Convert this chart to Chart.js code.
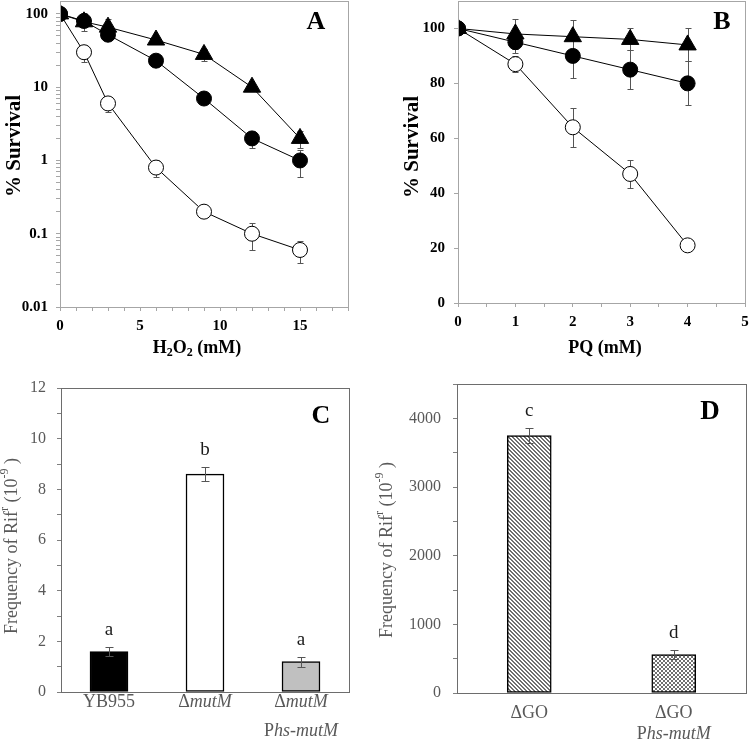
<!DOCTYPE html>
<html>
<head>
<meta charset="utf-8">
<script src="https://cdn.jsdelivr.net/npm/chart.js@4.4.1/dist/chart.umd.min.js"></script>
<style>
  body { margin: 0; background: #fff; }
  #wrap { position: relative; width: 750px; height: 740px; overflow: hidden; }
  .panel { position: absolute; }
  canvas { display: block; }
</style>
</head>
<body>
<div id="wrap">
  <div class="panel" style="left:0;top:0"><canvas id="chartA" width="375" height="380"></canvas></div>
  <div class="panel" style="left:375px;top:0"><canvas id="chartB" width="375" height="380"></canvas></div>
  <div class="panel" style="left:0;top:380px"><canvas id="chartC" width="375" height="360"></canvas></div>
  <div class="panel" style="left:375px;top:380px"><canvas id="chartD" width="375" height="360"></canvas></div>
</div>
<script>
// ===== DATA ===== //
// Panel A - survival after H2O2
const h2o2Doses = [0, 1.5, 3, 6, 9, 12, 15];
const h2o2Open = [100, 30, 6, 0.8, 0.2, 0.1, 0.06];
const h2o2OpenErr = [0, 8, 1.4, 0.2, 0.02, 0.04, 0.02];
const h2o2Filled = [100, 80, 52, 23, 7, 2, 1];
const h2o2FilledErr = [0, 22, 6, 3, 0.8, 0.5, 0.4];
const h2o2Tri = [100, 78, 66, 44, 28, 10, 2];
const h2o2TriErr = [0, 6, 20, 4, 5, 1, 0.5];
const h2o2TickLabels = [0, 5, 10, 15];
const survLogTicks = [0.01, 0.1, 1, 10, 100];

// Panel B - survival after paraquat
const pqDoses = [0, 1, 2, 3, 4];
const pqOpen = [100, 87, 64, 47, 21];
const pqOpenErr = [0, 3, 7, 5, 0];
const pqFilled = [100, 95, 90, 85, 80];
const pqFilledErr = [0, 4, 8, 7, 8];
const pqTri = [100, 98, 97, 96, 94];
const pqTriErr = [0, 5.5, 6, 4, 6];
const pqTickLabels = [0, 1, 2, 3, 4, 5];
const survLinTicks = [0, 20, 40, 60, 80, 100];

// Panel C - Rif^r frequency ( *italic*, | new line )
const strainsC = ['YB955', 'Δ*mutM*', 'Δ*mutM*|P*hs-mutM*'];
const rifC = [1.6, 8.6, 1.2];
const rifCErr = [0.18, 0.28, 0.2];
const lettersC = ['a', 'b', 'a'];
const rifCTicks = [0, 2, 4, 6, 8, 10, 12];

// Panel D
const strainsD = ['ΔGO', 'ΔGO|P*hs-mutM*'];
const rifD = [3750, 560];
const rifDErr = [115, 70];
const lettersD = ['c', 'd'];
const rifDTicks = [0, 1000, 2000, 3000, 4000];

// ===== HELPERS ===== //
const SERIF = '"Liberation Serif", "Times New Roman", serif';

function parseRich(str) {
    return str.split('*').map((t, i) => ({ t, italic: i % 2 === 1 })).filter(p => p.t);
}

function drawRich(ctx, parts, x, y, o) {
    ctx.save();
    ctx.translate(x, y);
    if (o.rotate) ctx.rotate(o.rotate);
    ctx.fillStyle = o.color || '#000';
    ctx.textBaseline = o.baseline || 'middle';
    ctx.textAlign = 'left';
    const fontOf = p => {
        const size = (p.sub || p.sup) ? Math.round(o.size * 0.65) : o.size;
        return `${p.italic ? 'italic ' : ''}${o.weight || 'normal'} ${size}px ${SERIF}`;
    };
    let total = 0;
    const widths = parts.map(p => {
        ctx.font = fontOf(p);
        const w = ctx.measureText(p.t).width;
        total += w;
        return w;
    });
    let cx = -total / 2;
    parts.forEach((p, i) => {
        ctx.font = fontOf(p);
        const dy = p.sub ? o.size * 0.28 : p.sup ? -o.size * 0.38 : 0;
        ctx.fillText(p.t, cx, dy);
        cx += widths[i];
    });
    ctx.restore();
}

function drawErrors(chart, cfg) {
    const { ctx } = chart;
    const ys = chart.scales.y;
    chart.data.datasets.forEach((ds, i) => {
        if (!ds.errors) return;
        const meta = chart.getDatasetMeta(i);
        ctx.save();
        ctx.strokeStyle = cfg.errColor;
        ctx.lineWidth = 1;
        meta.data.forEach((el, j) => {
            const e = ds.errors[j];
            if (!e) return;
            const d = ds.data[j];
            const v = typeof d === 'object' ? d.y : d;
            const x = Math.round(el.x) + 0.5;
            const t = Math.round(ys.getPixelForValue(v + e)) + 0.5;
            const b = Math.round(ys.getPixelForValue(v - e)) + 0.5;
            ctx.beginPath();
            ctx.moveTo(x, t); ctx.lineTo(x, b);
            ctx.moveTo(x - cfg.cap, t); ctx.lineTo(x + cfg.cap, t);
            ctx.moveTo(x - cfg.cap, b); ctx.lineTo(x + cfg.cap, b);
            ctx.stroke();
        });
        ctx.restore();
    });
}

// per-chart decoration: frame, titles, error bars, category labels, letters
function makeDeco(cfg) {
    return {
        id: 'deco',
        beforeDatasetsDraw(chart) {
            if (!cfg.errOnTop) drawErrors(chart, cfg);
        },
        afterDatasetsDraw(chart) {
            if (cfg.errOnTop) drawErrors(chart, cfg);
        },
        afterDraw(chart) {
            const { ctx, chartArea: a } = chart;
            ctx.save();
            ctx.strokeStyle = cfg.frameColor;
            ctx.lineWidth = 1;
            ctx.strokeRect(Math.round(a.left) + 0.5, Math.round(a.top) + 0.5,
                Math.round(a.right - a.left), Math.round(a.bottom - a.top));
            ctx.restore();

            (cfg.texts || []).forEach(t => drawRich(ctx, t.parts, t.x, t.y, t));

            if (cfg.cats) {
                const xs = chart.scales.x;
                cfg.cats.forEach((c, i) => {
                    c.split('|').forEach((line, k) => {
                        drawRich(ctx, parseRich(line), xs.getPixelForValue(i), a.bottom + cfg.catLines[k],
                            { size: 18, color: '#595959', baseline: 'alphabetic' });
                    });
                });
            }

            chart.data.datasets.forEach((ds, i) => {
                if (!ds.letters) return;
                const meta = chart.getDatasetMeta(i);
                meta.data.forEach((el, j) => {
                    const top = chart.scales.y.getPixelForValue(ds.data[j] + (ds.errors ? ds.errors[j] : 0));
                    drawRich(ctx, [{ t: ds.letters[j] }], el.x, top - 12,
                        { size: 19, color: '#1a1a1a', baseline: 'alphabetic' });
                });
            });
        }
    };
}

function fixBox(size, prop) {
    return s => {
        s[prop] = size;
        s.paddingLeft = s.paddingRight = s.paddingTop = s.paddingBottom = 0;
    };
}

const pts = (xs, ys) => xs.map((x, i) => ({ x, y: ys[i] }));

function lineSet(data, errors, style, radius, fill) {
    return {
        data, errors,
        showLine: true,
        borderColor: '#000',
        borderWidth: 1,
        pointStyle: style,
        pointRadius: radius,
        pointBackgroundColor: fill,
        pointBorderColor: '#000',
        pointBorderWidth: 1
    };
}

const boldTick = { family: SERIF, size: 15, weight: 'bold' };
const plainTick = { family: SERIF, size: 16 };
const lightGrid = { drawOnChartArea: false, drawTicks: true, tickLength: 4, color: '#a6a6a6' };
const darkGrid = { drawOnChartArea: false, drawTicks: true, tickLength: 4, color: '#7f7f7f' };

Chart.defaults.animation = false;
Chart.defaults.plugins.legend.display = false;
Chart.defaults.plugins.tooltip.enabled = false;

// ===== PANEL A ===== //
const logTickValues = survLogTicks.slice(0, -1)
    .flatMap(d => [1, 2, 3, 4, 5, 6, 7, 8, 9].map(m => d * m))
    .concat(survLogTicks[survLogTicks.length - 1]);

new Chart(document.getElementById('chartA'), {
    type: 'scatter',
    data: {
        datasets: [
            lineSet(pts(h2o2Doses, h2o2Tri), h2o2TriErr, 'triangle', 10, '#000'),
            lineSet(pts(h2o2Doses, h2o2Filled), h2o2FilledErr, 'circle', 7.5, '#000'),
            lineSet(pts(h2o2Doses, h2o2Open), h2o2OpenErr, 'circle', 7.5, '#fff')
        ]
    },
    options: {
        responsive: false,
        layout: { autoPadding: false, padding: { top: 1, right: 27, left: 0, bottom: 0 } },
        scales: {
            x: {
                type: 'linear', min: 0, max: 18,
                afterFit: fixBox(73, 'height'),
                grid: lightGrid, border: { display: false },
                ticks: {
                    stepSize: 1, autoSkip: false, maxRotation: 0, padding: 6,
                    color: '#000', font: boldTick,
                    callback: v => h2o2TickLabels.includes(v) ? v : ''
                }
            },
            y: {
                type: 'logarithmic', min: 0.01, max: 150, bounds: 'data',
                afterFit: fixBox(60, 'width'),
                afterBuildTicks: s => { s.ticks = logTickValues.map(v => ({ value: v })); },
                grid: lightGrid, border: { display: false },
                ticks: {
                    autoSkip: false, padding: 8, color: '#000', font: boldTick,
                    callback: v => survLogTicks.includes(v) ? String(v) : ''
                }
            }
        }
    },
    plugins: [makeDeco({
        frameColor: '#a6a6a6', errColor: '#555', cap: 3,
        texts: [
            { parts: [{ t: '% Survival' }], x: 15, y: 146, size: 21, weight: 'bold', rotate: -Math.PI / 2 },
            { parts: [{ t: 'H' }, { t: '2', sub: true }, { t: 'O' }, { t: '2', sub: true }, { t: ' (mM)' }],
              x: 197, y: 348, size: 18, weight: 'bold' },
            { parts: [{ t: 'A' }], x: 316, y: 22, size: 26, weight: 'bold' }
        ]
    })]
});

// ===== PANEL B ===== //
new Chart(document.getElementById('chartB'), {
    type: 'scatter',
    data: {
        datasets: [
            lineSet(pts(pqDoses, pqTri), pqTriErr, 'triangle', 10, '#000'),
            lineSet(pts(pqDoses, pqFilled), pqFilledErr, 'circle', 7.5, '#000'),
            lineSet(pts(pqDoses, pqOpen), pqOpenErr, 'circle', 7.5, '#fff')
        ]
    },
    options: {
        responsive: false,
        layout: { autoPadding: false, padding: { top: 1, right: 5, left: 0, bottom: 0 } },
        scales: {
            x: {
                type: 'linear', min: 0, max: 5,
                afterFit: fixBox(77, 'height'),
                grid: lightGrid, border: { display: false },
                ticks: {
                    stepSize: 0.5, autoSkip: false, maxRotation: 0, padding: 6,
                    color: '#000', font: boldTick,
                    callback: v => pqTickLabels.includes(v) ? v : ''
                }
            },
            y: {
                type: 'linear', min: 0, max: 110, bounds: 'data',
                afterFit: fixBox(83, 'width'),
                afterBuildTicks: s => { s.ticks = survLinTicks.map(v => ({ value: v })); },
                grid: lightGrid, border: { display: false },
                ticks: { autoSkip: false, padding: 9, color: '#000', font: boldTick }
            }
        }
    },
    plugins: [makeDeco({
        frameColor: '#a6a6a6', errColor: '#555', cap: 3,
        texts: [
            { parts: [{ t: '% Survival' }], x: 38, y: 147, size: 21, weight: 'bold', rotate: -Math.PI / 2 },
            { parts: [{ t: 'PQ (mM)' }], x: 230, y: 348, size: 18, weight: 'bold' },
            { parts: [{ t: 'B' }], x: 347, y: 22, size: 26, weight: 'bold' }
        ]
    })]
});

// ===== PANEL C ===== //
const rifTitle = [{ t: 'Frequency of Rif' }, { t: 'r', sup: true }, { t: ' (10' }, { t: '-9', sup: true }, { t: ' )' }];
const plain = s => s.replace(/\*/g, '').replace('|', ' ');

new Chart(document.getElementById('chartC'), {
    type: 'bar',
    data: {
        labels: strainsC.map(plain),
        datasets: [{
            data: rifC, errors: rifCErr, letters: lettersC,
            backgroundColor: ['#000', '#fff', '#c0c0c0'],
            borderColor: '#000', borderWidth: 1.5, borderSkipped: false,
            barThickness: 38
        }]
    },
    options: {
        responsive: false,
        layout: { autoPadding: false, padding: { top: 8, right: 26, left: 0, bottom: 0 } },
        scales: {
            x: {
                afterFit: fixBox(48, 'height'),
                grid: { display: false }, border: { display: false },
                ticks: { display: false }
            },
            y: {
                min: 0, max: 12,
                afterFit: fixBox(61, 'width'),
                grid: darkGrid, border: { display: false },
                ticks: {
                    stepSize: 1, autoSkip: false, padding: 11, color: '#595959', font: plainTick,
                    callback: v => rifCTicks.includes(v) ? v : ''
                }
            }
        }
    },
    plugins: [makeDeco({
        frameColor: '#6d6d6d', errColor: '#555', cap: 4, errOnTop: true,
        cats: strainsC, catLines: [15, 44],
        texts: [
            { parts: rifTitle, x: 12, y: 166, size: 18, color: '#595959', rotate: -Math.PI / 2 },
            { parts: [{ t: 'C' }], x: 321, y: 36, size: 26, weight: 'bold' }
        ]
    })]
});

// ===== PANEL D ===== //
function makeTile(draw) {
    const c = document.createElement('canvas');
    c.width = c.height = 4;
    const g = c.getContext('2d');
    g.fillStyle = '#fff';
    g.fillRect(0, 0, 4, 4);
    g.fillStyle = '#707070';
    draw(g);
    return c;
}
const hatchTile = makeTile(g => { for (let i = 0; i < 4; i++) { g.fillRect(i, i, 1, 1); g.fillRect((i + 1) % 4, i, 1, 1); } });
const checkTile = makeTile(g => { g.fillRect(0, 0, 2, 2); g.fillRect(2, 2, 2, 2); });
const ctxD = document.getElementById('chartD').getContext('2d');

new Chart(ctxD, {
    type: 'bar',
    data: {
        labels: strainsD.map(plain),
        datasets: [{
            data: rifD, errors: rifDErr, letters: lettersD,
            backgroundColor: [ctxD.createPattern(hatchTile, 'repeat'), ctxD.createPattern(checkTile, 'repeat')],
            borderColor: '#000', borderWidth: 1.5, borderSkipped: false,
            barThickness: 44
        }]
    },
    options: {
        responsive: false,
        layout: { autoPadding: false, padding: { top: 4, right: 4, left: 0, bottom: 0 } },
        scales: {
            x: {
                afterFit: fixBox(47, 'height'),
                grid: { display: false }, border: { display: false },
                ticks: { display: false }
            },
            y: {
                min: 0, max: 4500,
                afterFit: fixBox(82, 'width'),
                grid: darkGrid, border: { display: false },
                ticks: {
                    stepSize: 500, autoSkip: false, padding: 12, color: '#595959', font: plainTick,
                    callback: v => rifDTicks.includes(v) ? v : ''
                }
            }
        }
    },
    plugins: [makeDeco({
        frameColor: '#6d6d6d', errColor: '#555', cap: 4, errOnTop: true,
        cats: strainsD, catLines: [25, 46],
        texts: [
            { parts: rifTitle, x: 12, y: 170, size: 18, color: '#595959', rotate: -Math.PI / 2 },
            { parts: [{ t: 'D' }], x: 335, y: 32, size: 27, weight: 'bold' }
        ]
    })]
});
</script>
</body>
</html>
